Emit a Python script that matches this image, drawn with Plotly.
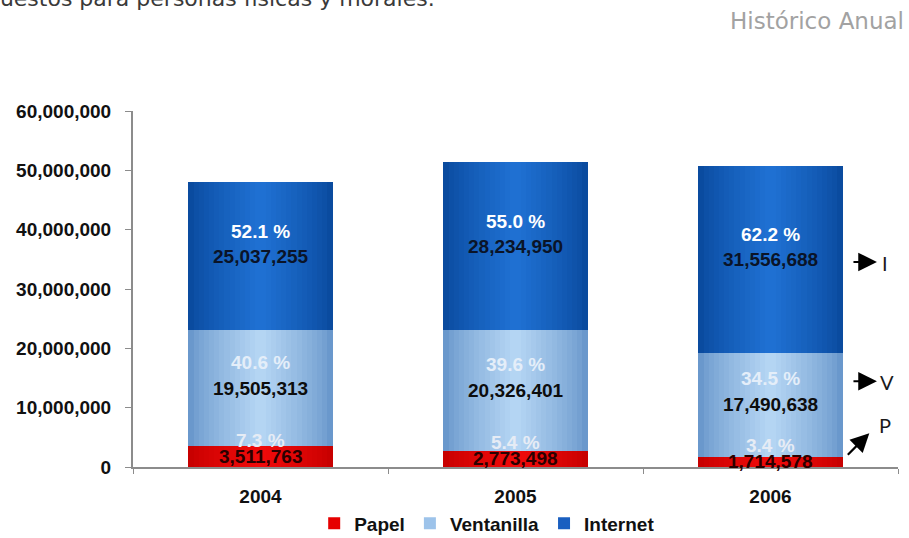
import plotly.graph_objects as go

# Declaraciones por medio de presentación, histórico anual
years = ["2004", "2005", "2006"]
papel = [3511763, 2773498, 1714578]
ventanilla = [19505313, 20326401, 17490638]
internet = [25037255, 28234950, 31556688]

series_names = ["Papel", "Ventanilla", "Internet"]
y_ticks = [0, 10000000, 20000000, 30000000, 40000000, 50000000, 60000000]

# styling per series: (edge colour, centre colour, legend colour, pct colour, value colour, pct offset px)
styles = {
    "Papel": ("#c80000", "#ef0a0a", "#e60000", "#e6ecf5", "#2a0000", 16),
    "Ventanilla": ("#6a98cc", "#b4d5f3", "#9dc3ea", "#e4eef9", "#0d0d0d", 26),
    "Internet": ("#0a4b9f", "#1f70d2", "#1a5fc0", "#ffffff", "#0a1428", 25),
}

BAR_W = 0.565
LAYERS = 14
FONT = "Liberation Sans, Arial, sans-serif"


def hex_to_rgb(h):
    h = h.lstrip("#")
    return tuple(int(h[i:i + 2], 16) for i in (0, 2, 4))


def mix(c1, c2, t):
    a, b = hex_to_rgb(c1), hex_to_rgb(c2)
    return "rgb(%d,%d,%d)" % tuple(round(a[i] + (b[i] - a[i]) * t) for i in range(3))


values = {"Papel": papel, "Ventanilla": ventanilla, "Internet": internet}
totals = [p + v + i for p, v, i in zip(papel, ventanilla, internet)]

fig = go.Figure()

# legend entries
for name in series_names:
    fig.add_trace(go.Bar(
        x=years, y=[0, 0, 0], name=name, width=BAR_W,
        marker=dict(color=styles[name][2], line=dict(width=0)),
        hoverinfo="skip", showlegend=True,
    ))

annotations = []
bases = [0, 0, 0]
for name in series_names:
    vals = values[name]
    edge, centre, _, pct_col, val_col, pct_off = styles[name]
    # horizontal shading: narrower, lighter layers stacked over each other
    for k in range(LAYERS):
        t = (k / (LAYERS - 1)) ** 0.8
        fig.add_trace(go.Bar(
            x=years, y=vals, base=list(bases),
            width=BAR_W * (1 - k / LAYERS),
            marker=dict(color=mix(edge, centre, t), line=dict(width=0)),
            showlegend=False, hoverinfo="skip",
        ))
    for j in range(len(years)):
        mid = bases[j] + vals[j] / 2
        pct = 100 * vals[j] / totals[j]
        annotations.append(dict(
            x=j, y=mid, xref="x", yref="y", text=format(vals[j], ","),
            showarrow=False,
            font=dict(family=FONT, size=19, color=val_col, weight="bold"),
        ))
        annotations.append(dict(
            x=j, y=mid, xref="x", yref="y", yshift=pct_off,
            text="%.1f %%" % pct, showarrow=False,
            font=dict(family=FONT, size=19, color=pct_col, weight="bold"),
        ))
    bases = [b + v for b, v in zip(bases, vals)]

# side markers for the three channels
side_font = dict(family="Lato, sans-serif", size=20, color="#1a1a1a")
for tip_y, label, lab_x, lab_y in [(34550000, "I", 0.977, 34400000),
                                   (14450000, "V", 0.9745, 14400000)]:
    annotations.append(dict(
        x=0.9725, y=tip_y, xref="paper", yref="y", text="", showarrow=True,
        ax=-25, ay=0, arrowhead=2, arrowsize=1.7, arrowwidth=2.2, arrowcolor="#000000",
    ))
    annotations.append(dict(
        x=lab_x, y=lab_y, xref="paper", yref="y", text=label, xanchor="left",
        showarrow=False, font=side_font,
    ))
annotations.append(dict(
    x=0.9625, y=5700000, xref="paper", yref="y", text="", showarrow=True,
    ax=-23, ay=23, arrowhead=2, arrowsize=1.7, arrowwidth=2.2, arrowcolor="#000000",
))
annotations.append(dict(
    x=0.972, y=7100000, xref="paper", yref="y", text="P", xanchor="left",
    showarrow=False, font=side_font,
))

# header texts
annotations.append(dict(
    x=1.01, y=1.2528, xref="paper", yref="paper", text="Histórico Anual",
    xanchor="right", yanchor="middle", showarrow=False,
    font=dict(family="DejaVu Sans, sans-serif", size=23, color="#a2a2a2"),
))
annotations.append(dict(
    x=0.398, y=1.2753, xref="paper", yref="paper",
    text="Impuestos para personas físicas y morales.",
    xanchor="right", yanchor="bottom", showarrow=False,
    font=dict(family="DejaVu Sans, sans-serif", size=22, color="#3a3a3a"),
))

fig.update_layout(
    width=909, height=538, autosize=False,
    margin=dict(l=133, r=11, t=111, b=71, autoexpand=False),
    paper_bgcolor="white", plot_bgcolor="white",
    barmode="overlay", bargap=0,
    showlegend=True,
    legend=dict(
        orientation="h", x=0.463, xanchor="center", y=-0.105, yanchor="top",
        font=dict(family=FONT, size=19, color="#111111", weight="bold"),
        itemwidth=30, tracegroupgap=0, bgcolor="rgba(0,0,0,0)",
    ),
    annotations=annotations,
    xaxis=dict(
        type="category", categoryorder="array", categoryarray=years,
        range=[-0.5, 2.5], showline=True, linecolor="#8c8c8c", linewidth=2,
        ticks="outside", tickson="boundaries", ticklen=5, tickcolor="#8c8c8c",
        tickwidth=1, showgrid=False, zeroline=False,
        tickfont=dict(family=FONT, size=19, color="#111111", weight="bold"),
        ticklabelstandoff=11,
    ),
    yaxis=dict(
        range=[0, 60000000], tickvals=y_ticks, tickformat=",d",
        showline=True, linecolor="#8c8c8c", linewidth=2,
        ticks="outside", ticklen=6, tickcolor="#8c8c8c", tickwidth=1,
        showgrid=False, zeroline=False,
        tickfont=dict(family=FONT, size=19, color="#111111", weight="bold"),
        ticklabelstandoff=10,
    ),
)

fig.write_html("out.html")
